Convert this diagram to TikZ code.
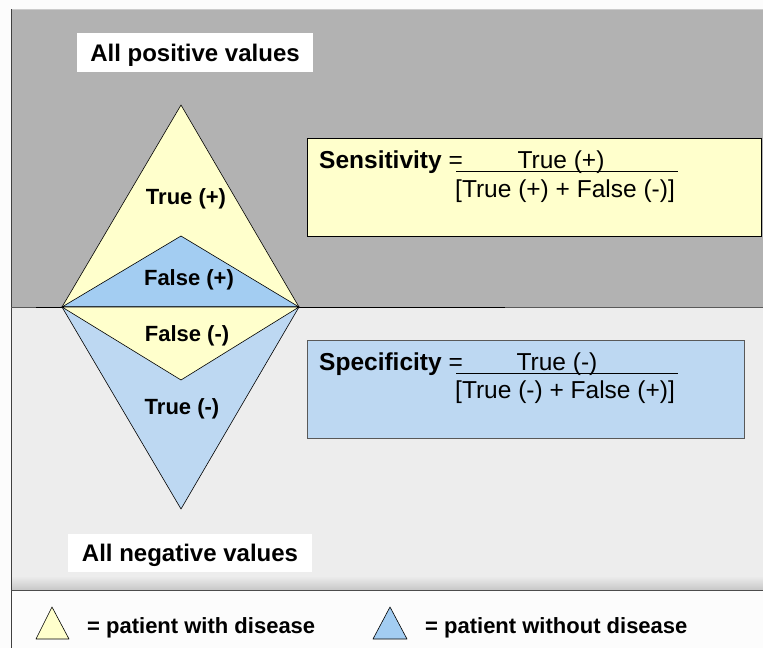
\documentclass[tikz,border=0pt]{standalone}
\usepackage{fontspec}
\setmainfont{Liberation Sans}
\definecolor{paleyellow}{HTML}{FFFFCC}
\definecolor{midblue}{HTML}{A3CDF2}
\definecolor{paleblue}{HTML}{BDD8F2}
\definecolor{upgray}{HTML}{B2B2B2}
\definecolor{lowgray}{HTML}{EDEDED}
\tikzset{
  tri/.style={draw=black, line width=0.6pt, line join=round},
  tag/.style={font=\fontsize{22}{26}\selectfont\bfseries, inner sep=0pt,
    text height=15.8pt, text depth=0pt},
  title/.style={fill=white, font=\fontsize{24}{28}\selectfont\bfseries,
    minimum width=236, minimum height=39, inner sep=0pt,
    text height=17.2pt, text depth=0pt},
  formula/.style={line width=0.8pt, anchor=north west, minimum height=98, inner sep=0pt},
  ftext/.style={font=\fontsize{24.5}{28}\selectfont, inner sep=0pt, anchor=base west},
  legend/.style={font=\fontsize{22}{26}\selectfont\bfseries, inner sep=0pt, anchor=west,
    text height=15.8pt, text depth=0pt}
}
\begin{document}
\begin{tikzpicture}[x=1pt,y=-1pt]
    \useasboundingbox (0,0) rectangle (763,648);
    % background bands
    \fill[white!99!black] (0,0) rectangle (763,648);
    \fill[upgray] (11,9) rectangle (763,307);
    \fill[lowgray] (11,307) rectangle (763,590);
    \shade[top color=lowgray, bottom color=black!22] (11,576) rectangle (763,590);
    \draw[black!20] (11,9) -- (763,9);
    \draw[black!75] (11,9) -- (11,648);
    \draw[black!65, line width=0.9pt] (11,307) -- (763,307);
    \draw[black, line width=1pt] (36,307) -- (505,307);
    \draw[black!70, line width=0.9pt] (11,590) -- (763,590);

    % the diamond
    \coordinate (l) at (62,307);
    \coordinate (r) at (299,307);
    \coordinate (top) at (181,105);
    \coordinate (bot) at (181,509);
    \coordinate (fp) at (181,236);
    \coordinate (fn) at (181,380);
    \filldraw[tri, fill=paleyellow] (l) -- (top) -- (r) -- cycle;
    \filldraw[tri, fill=midblue] (l) -- (fp) -- (r) -- cycle;
    \filldraw[tri, fill=paleblue] (l) -- (bot) -- (r) -- cycle;
    \filldraw[tri, fill=paleyellow] (l) -- (fn) -- (r) -- cycle;
    \node[tag] (tp) at (186,197) {True (+)};
    \node[tag] (fpl) at (189,278) {False (+)};
    \node[tag] (fnl) at (187,334) {False (-)};
    \node[tag] (tn) at (182,407) {True (-)};

    \node[title] (pos) at (195,52.5) {All positive values};
    \node[title, minimum width=244, minimum height=38] (neg) at (190,553) {All negative values};

    % formulas
    \node[formula, draw=black, fill=paleyellow, minimum width=454] (sens) at (307,138) {};
    \node[ftext] (senslbl) at (319,168) {\bfseries Sensitivity \mdseries=};
    \node[ftext, anchor=base] (sensnum) at (561,168) {True (+)};
    \draw (456,171) -- (678,171);
    \node[ftext] (sensden) at (455,197) {[True (+) + False (-)]};

    \node[formula, draw=black!65, fill=paleblue, minimum width=437] (spec) at (307,340) {};
    \node[ftext] (speclbl) at (319,370) {\bfseries Specificity \mdseries=};
    \node[ftext, anchor=base] (specnum) at (557,370) {True (-)};
    \draw (456,373) -- (678,373);
    \node[ftext] (specden) at (455,398) {[True (-) + False (+)]};

    % legend
    \filldraw[tri, fill=paleyellow] (36,639) -- (52,607) -- (69,639) -- cycle;
    \node[legend] (withd) at (87,626) {= patient with disease};
    \filldraw[tri, fill=midblue] (373,639) -- (390,607) -- (407,639) -- cycle;
    \node[legend] (withoutd) at (425,626) {= patient without disease};
\end{tikzpicture}
\end{document}
